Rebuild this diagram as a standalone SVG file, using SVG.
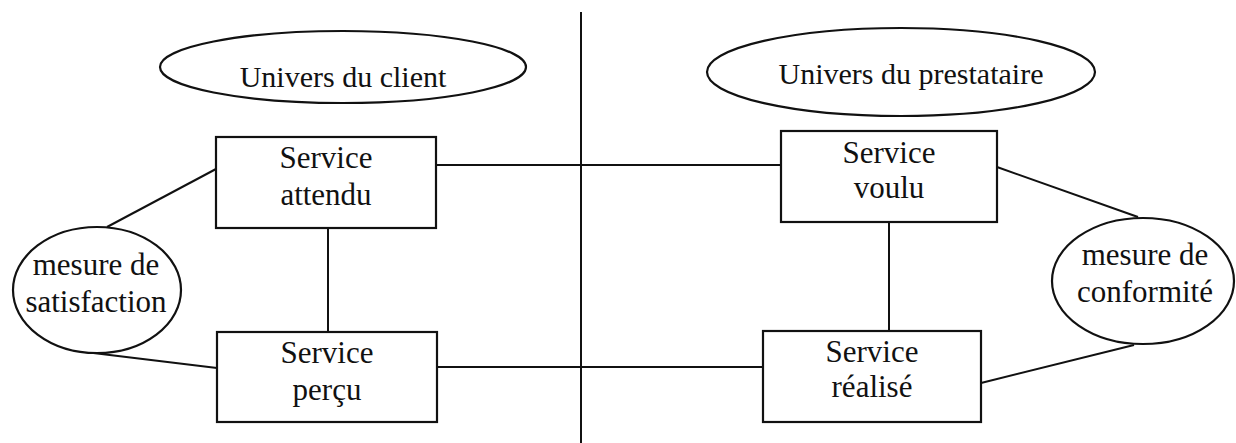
<svg xmlns="http://www.w3.org/2000/svg" width="1236" height="443" viewBox="0 0 1236 443">
<style>
.s{fill:none;stroke:#111;stroke-width:2}
.b{fill:#fff;stroke:#111;stroke-width:2.2}
text{font-family:"Liberation Serif","Times New Roman",serif;font-size:31px;fill:#111;text-anchor:middle}
.u{font-size:30px}
</style>
<rect width="1236" height="443" fill="#fff"/>
<g id="connectors">
<line class="s" x1="581" y1="12" x2="581" y2="443"/>
<line class="s" x1="436" y1="165" x2="781" y2="165"/>
<line class="s" x1="437" y1="367" x2="763" y2="367"/>
<line class="s" x1="328" y1="228" x2="328" y2="332"/>
<line class="s" x1="889" y1="222" x2="889" y2="331"/>
<line class="s" x1="216" y1="169" x2="107" y2="227"/>
<line class="s" x1="85" y1="352" x2="217" y2="368"/>
<line class="s" x1="997" y1="167" x2="1138" y2="217"/>
<line class="s" x1="981" y1="383" x2="1134" y2="345"/>
</g>
<g id="univers-client">
<ellipse class="b" cx="343" cy="67" rx="183" ry="36"/>
<text class="u" x="343" y="87">Univers du client</text>
</g>
<g id="univers-prestataire">
<ellipse class="b" cx="901" cy="72" rx="194" ry="44"/>
<text class="u" x="911" y="84">Univers du prestataire</text>
</g>
<g id="service-attendu">
<rect class="b" x="216" y="137" width="220" height="91"/>
<text x="326" y="168">Service</text>
<text x="326" y="205">attendu</text>
</g>
<g id="service-voulu">
<rect class="b" x="781" y="131" width="216" height="91"/>
<text x="889" y="163">Service</text>
<text x="889" y="198">voulu</text>
</g>
<g id="service-percu">
<rect class="b" x="217" y="332" width="220" height="90"/>
<text x="327" y="363">Service</text>
<text x="327" y="400">perçu</text>
</g>
<g id="service-realise">
<rect class="b" x="763" y="331" width="218" height="91"/>
<text x="872" y="362">Service</text>
<text x="872" y="397">réalisé</text>
</g>
<g id="mesure-satisfaction">
<ellipse class="b" cx="97" cy="290" rx="84" ry="63"/>
<text x="96" y="275">mesure de</text>
<text x="96" y="312">satisfaction</text>
</g>
<g id="mesure-conformite">
<ellipse class="b" cx="1143" cy="281" rx="91" ry="63"/>
<text x="1145" y="265">mesure de</text>
<text x="1145" y="302">conformité</text>
</g>
</svg>
